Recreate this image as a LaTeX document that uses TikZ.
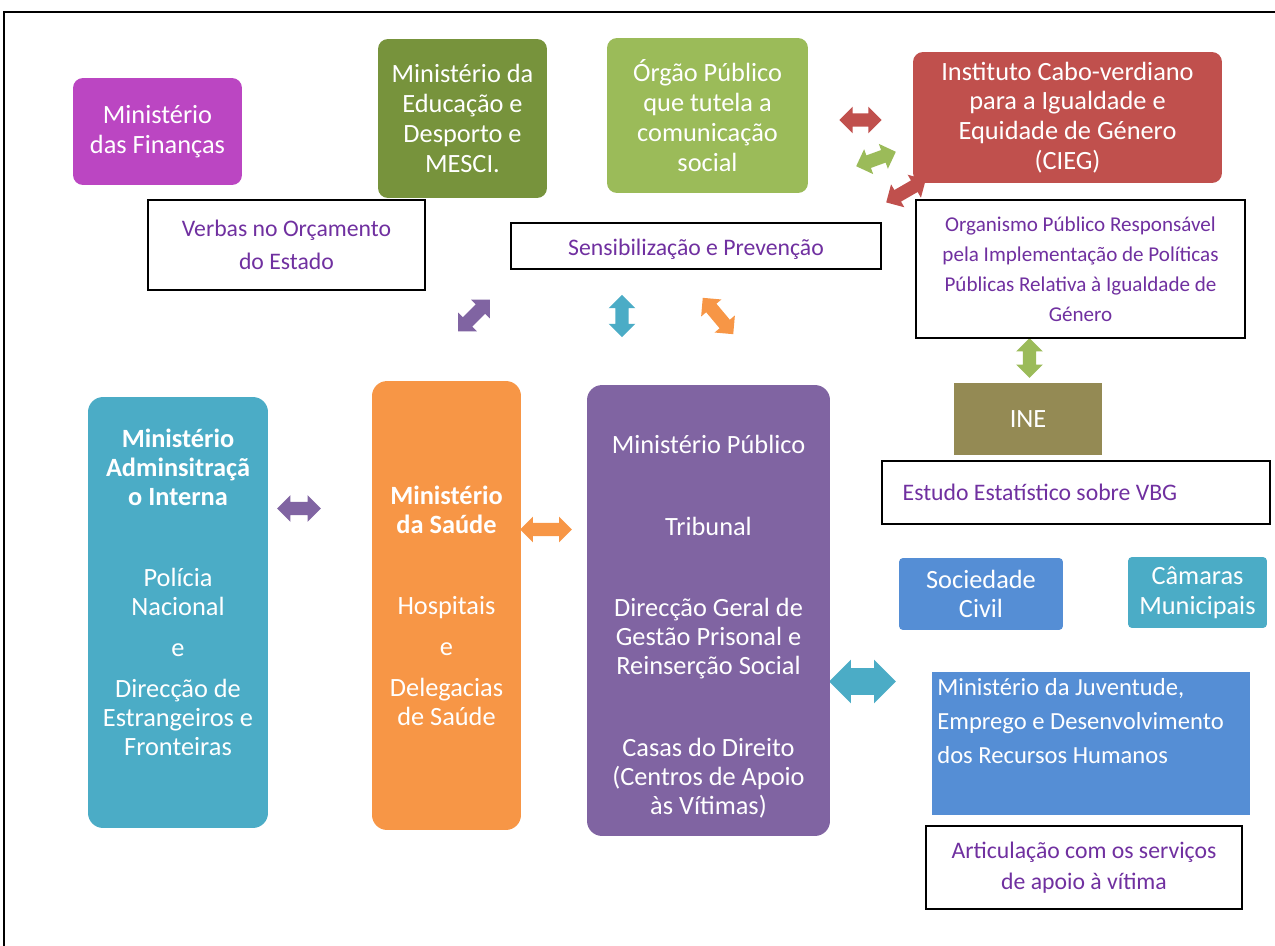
\documentclass[tikz,border=0pt]{standalone}
\usepackage{fontspec}
\setmainfont{Carlito}
\usetikzlibrary{shapes.arrows}

\definecolor{magbox}{HTML}{BB46C2}
\definecolor{olivebox}{HTML}{77933C}
\definecolor{lgreenbox}{HTML}{9BBB59}
\definecolor{redbox}{HTML}{C0504D}
\definecolor{khakibox}{HTML}{948A54}
\definecolor{tealbox}{HTML}{4BACC6}
\definecolor{orangebox}{HTML}{F79646}
\definecolor{purplebox}{HTML}{8064A2}
\definecolor{bluebox}{HTML}{558ED5}
\definecolor{txtpurple}{HTML}{7030A0}

\tikzset{
    box/.style={rounded corners=0.2cm, text=white, align=center, inner sep=0pt,
        font=\fontsize{15}{17}\selectfont},
    wbox/.style={draw=black, line width=0.8pt, fill=white, text=txtpurple, align=center,
        inner sep=0pt, font=\fontsize{13.5}{19}\selectfont},
    tall/.style={text=white, align=center, inner sep=0pt, font=\fontsize{15}{16.5}\selectfont},
    dbl/.style={double arrow, draw=none, inner xsep=0pt, inner ysep=3.6pt,
        double arrow head extend=3.75pt, minimum height=24pt}
}

\begin{document}
\begin{tikzpicture}[x=0.02cm, y=-0.02cm]
    \useasboundingbox (0,0) rectangle (1275,946);
    \clip (0,0) rectangle (1275,946);
    % outer frame, right and bottom cut off
    \draw[line width=1pt] (4,960) -- (4,12) -- (1290,12);

    % arrows first, boxes go over them
    \node[dbl, fill=redbox] (cieglink) at (860.5,120) {};
    \node[dbl, fill=lgreenbox, rotate=20] (ciegorgao) at (876,159) {};
    \node[dbl, fill=redbox, rotate=30, minimum height=26pt] (ciegsens) at (906,191) {};
    \node[dbl, fill=purplebox, rotate=45, minimum height=25.5pt] (verbaslink) at (474,315.5) {};
    \node[dbl, fill=tealbox, rotate=90] (senslink) at (622,316) {};
    \node[dbl, fill=orangebox, rotate=-50, minimum height=27pt] (orgaolink) at (718,316) {};
    \node[dbl, fill=purplebox, minimum height=25pt] (maisaude) at (299,508.5) {};
    \node[dbl, fill=orangebox, minimum height=29.5pt, double arrow head extend=3.5pt] (saudemp) at (546,529.5) {};
    \node[dbl, fill=tealbox, minimum height=38pt, inner ysep=7.4pt, double arrow head extend=4.8pt] (mpjuv) at (862.5,681.5) {};
    \node[dbl, fill=lgreenbox, rotate=90, minimum height=22.7pt] (orgine) at (1029.5,358) {};

    % top row
    \node[box, fill=magbox, minimum width=3.38cm, minimum height=2.14cm] (fin) at (157.5,131.5)
        {Ministério\\das Finanças};
    \node[box, fill=olivebox, minimum width=3.38cm, minimum height=3.18cm] (edu) at (462.5,118.5)
        {Ministério da\\Educação e\\Desporto e\\MESCI.};
    \node[box, fill=lgreenbox, minimum width=4.02cm, minimum height=3.1cm] (orgao) at (707.5,115.5)
        {Órgão Público\\que tutela a\\comunicação\\social};
    \node[box, fill=redbox, minimum width=6.18cm, minimum height=2.62cm] (cieg) at (1067.5,117.5)
        {Instituto Cabo-verdiano\\para a Igualdade e\\Equidade de Género\\(CIEG)};

    % white label boxes
    \node[wbox, minimum width=5.54cm, minimum height=1.8cm] (verbas) at (286.5,245)
        {Verbas no Orçamento\\do Estado};
    \node[wbox, minimum width=7.4cm, minimum height=0.92cm] (sensib) at (696,246) {};
    \node[inner sep=0pt, text=txtpurple, font=\fontsize{13.5}{19}\selectfont] (sensibtxt)
        at ([yshift=-0.06cm]sensib.center) {Sensibilização e Prevenção};
    \node[wbox, minimum width=6.58cm, minimum height=2.76cm, font=\fontsize{12}{17}\selectfont] (organismo) at (1080.5,269)
        {Organismo Público Responsável\\pela Implementação de Políticas\\Públicas Relativa à Igualdade de\\Género};

    % ine and study
    \node[box, rounded corners=0pt, fill=khakibox, minimum width=2.96cm, minimum height=1.44cm] (ine) at (1028,419) {INE};
    \node[wbox, minimum width=7.76cm, minimum height=1.26cm] (estudo) at (1076,492.5) {};
    \node[anchor=west, inner sep=0pt, text=txtpurple, font=\fontsize{13.5}{19}\selectfont] (estudotxt)
        at ([xshift=0.42cm]estudo.west) {Estudo Estatístico sobre VBG};

    % three tall ministries
    \node[box, rounded corners=0.3cm, fill=tealbox, minimum width=3.6cm, minimum height=8.62cm] (mai) at (178,612.5) {};
    \node[tall] (maitxt) at (178,592)
        {\textbf{Ministério}\\\textbf{Adminsitraçã}\\\textbf{o Interna}\\[30pt]
         Polícia\\Nacional\\[6.7pt]e\\[6.7pt]Direcção de\\Estrangeiros e\\Fronteiras};
    \node[box, rounded corners=0.3cm, fill=orangebox, minimum width=2.98cm, minimum height=8.98cm] (saude) at (446.5,605.5) {};
    \node[tall] (saudetxt) at (446.5,605.5)
        {\textbf{Ministério}\\\textbf{da Saúde}\\[30pt]
         Hospitais\\[6.7pt]e\\[6.7pt]Delegacias\\de Saúde};
    \node[box, rounded corners=0.3cm, fill=purplebox, minimum width=4.86cm, minimum height=9.02cm] (mp) at (708.5,610.5) {};
    \node[tall] (mptxt) at (708.5,626.5)
        {Ministério Público\\[30pt]Tribunal\\[30pt]
         Direcção Geral de\\Gestão Prisonal e\\Reinserção Social\\[30pt]
         Casas do Direito\\(Centros de Apoio\\às Vítimas)};

    % right side
    \node[box, rounded corners=0.08cm, fill=bluebox, minimum width=3.28cm, minimum height=1.44cm] (socciv) at (981,594)
        {Sociedade\\Civil};
    \node[box, rounded corners=0.08cm, fill=tealbox, minimum width=2.78cm, minimum height=1.42cm] (camaras) at (1197.5,592.5)
        {Câmaras\\Municipais};
    \node[box, rounded corners=0pt, fill=bluebox, minimum width=6.36cm, minimum height=2.86cm] (mjedrh) at (1091,743.5) {};
    \node[anchor=north west, inner sep=0pt, text=white, align=left, font=\fontsize{14}{19.3}\selectfont] (mjedrhtxt)
        at (937,678) {Ministério da Juventude,\\Emprego e Desenvolvimento\\dos Recursos Humanos};
    \node[wbox, minimum width=6.32cm, minimum height=1.66cm, font=\fontsize{13.5}{18}\selectfont] (artic) at (1084,867.5)
        {Articulação com os serviços\\de apoio à vítima};
\end{tikzpicture}
\end{document}
